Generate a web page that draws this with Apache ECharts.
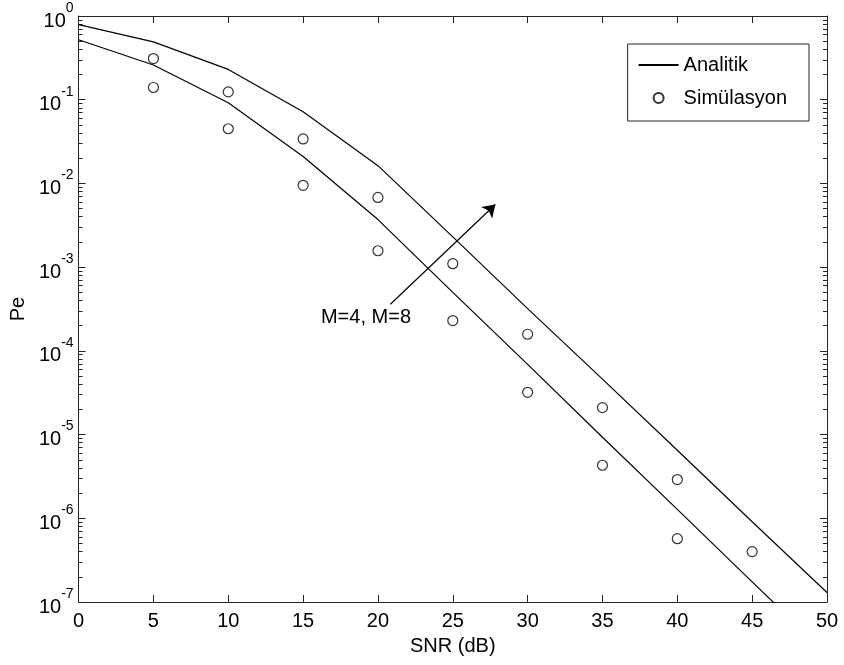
<!DOCTYPE html>
<html>
<head>
<meta charset="utf-8">
<script src="https://cdn.jsdelivr.net/npm/echarts@6/dist/echarts.min.js"></script>
<style>
  html, body { margin: 0; padding: 0; background: #fff; }
  #main { width: 844px; height: 665px; }
</style>
</head>
<body>
<div id="main"></div>
<script>
// SNR (dB) values
var snr = [0, 5, 10, 15, 20, 25, 30, 35, 40, 45, 50];
// analitik egriler
var peAnalitikM4 = [0.52, 0.26, 0.092, 0.021, 0.0037, 5.0e-4, 6.9e-5, 9.3e-6, 1.28e-6, 1.74e-7, 2.4e-8];
var peAnalitikM8 = [0.79, 0.49, 0.23, 0.072, 0.0163, 2.3e-3, 3.2e-4, 4.6e-5, 6.5e-6, 9.1e-7, 1.3e-7];
// simulasyon noktalari
var snrSimM4 = [5, 10, 15, 20, 25, 30, 35, 40];
var peSimM4 = [0.14, 0.045, 0.0095, 1.57e-3, 2.3e-4, 3.2e-5, 4.3e-6, 5.7e-7];
var snrSimM8 = [5, 10, 15, 20, 25, 30, 35, 40, 45];
var peSimM8 = [0.31, 0.124, 0.034, 6.8e-3, 1.1e-3, 1.58e-4, 2.1e-5, 2.9e-6, 4.0e-7];
// ok ve yazi (annotation)
var arrowFrom = [20.83, 3.6e-4];
var arrowTo = [27.84, 5.6e-3];
var arrowText = 'M=4, M=8';
var arrowTextAt = [19.2, 2.47e-4];

var xTicks = [0, 5, 10, 15, 20, 25, 30, 35, 40, 45, 50];
var yTicks = [1e-7, 1e-6, 1e-5, 1e-4, 1e-3, 1e-2, 1e-1, 1];

var yMinor = [];
for (var i = 0; i < yTicks.length - 1; i++) {
    for (var m = 2; m <= 9; m++) {
        yMinor.push(m * yTicks[i]);
    }
}

var pair = function(xs, ys) {
    return xs.map(function(x, i) { return [x, ys[i]]; });
};

var FONT = 'Liberation Sans';
var FS = 20;
var AX = '#262626';

var chart = echarts.init(document.getElementById('main'));

var majorY = function(pos, labels) {
    return {
        type: 'log', logBase: 10, min: 1e-7, max: 1, position: pos,
        axisLine: { show: true, lineStyle: { color: AX, width: 1 } },
        axisTick: { show: true, inside: true, length: 7, customValues: yTicks, lineStyle: { color: AX } },
        axisLabel: {
            show: labels, customValues: yTicks, margin: 5,
            formatter: function(v) {
                var e = Math.round(Math.log10(v));
                return '{b|10}{e|' + e + '}';
            },
            rich: {
                b: { fontFamily: FONT, fontSize: FS, color: '#000', lineHeight: 30, verticalAlign: 'bottom' },
                e: { fontFamily: FONT, fontSize: 14, color: '#000', lineHeight: 14, verticalAlign: 'top' }
            }
        },
        splitLine: { show: false },
        name: labels ? 'Pe' : '', nameLocation: 'middle', nameGap: 50,
        nameTextStyle: { fontFamily: FONT, fontSize: FS, color: '#000' }
    };
};
var minorY = function(pos) {
    return {
        type: 'log', logBase: 10, min: 1e-7, max: 1, position: pos,
        axisLine: { show: false },
        axisTick: { show: true, inside: true, length: 4, customValues: yMinor, lineStyle: { color: AX } },
        axisLabel: { show: false },
        splitLine: { show: false }
    };
};

var option = {
    animation: false,
    backgroundColor: '#fff',
    grid: { left: 78, right: 17, top: 16, bottom: 63 },
    legend: {
        data: [
            { name: 'Analitik', itemStyle: { opacity: 0 } },
            { name: 'Simülasyon' }
        ],
        orient: 'vertical',
        right: 35, top: 44,
        padding: [11, 22, 13, 10],
        itemWidth: 40, itemHeight: 10, itemGap: 13,
        borderColor: AX, borderWidth: 1, backgroundColor: '#fff',
        textStyle: { fontFamily: FONT, fontSize: FS, color: '#000' },
        selectedMode: false
    },
    xAxis: [{
        type: 'value', min: 0, max: 50, interval: 5, position: 'bottom',
        axisLine: { show: true, lineStyle: { color: AX, width: 1 } },
        axisTick: { show: true, inside: true, length: 7, lineStyle: { color: AX } },
        axisLabel: { margin: 9, fontFamily: FONT, fontSize: FS, color: '#000' },
        splitLine: { show: false },
        name: 'SNR (dB)', nameLocation: 'middle', nameGap: 34,
        nameTextStyle: { fontFamily: FONT, fontSize: FS, color: '#000' }
    }, {
        type: 'value', min: 0, max: 50, interval: 5, position: 'top',
        axisLine: { show: true, lineStyle: { color: AX, width: 1 } },
        axisTick: { show: true, inside: true, length: 7, lineStyle: { color: AX } },
        axisLabel: { show: false },
        splitLine: { show: false }
    }],
    yAxis: [majorY('left', true), minorY('left'), majorY('right', false), minorY('right')],
    series: [{
        name: 'Analitik', type: 'line', symbol: 'none',
        lineStyle: { color: '#000', width: 1.2 }, itemStyle: { color: '#000' },
        data: pair(snr, peAnalitikM4)
    }, {
        name: 'Analitik', type: 'line', symbol: 'none',
        lineStyle: { color: '#000', width: 1.2 }, itemStyle: { color: '#000' },
        data: pair(snr, peAnalitikM8)
    }, {
        name: 'Simülasyon', type: 'scatter', symbol: 'circle', symbolSize: 10,
        itemStyle: { color: '#fff', borderColor: '#000', borderWidth: 1.2 },
        data: pair(snrSimM4, peSimM4)
    }, {
        name: 'Simülasyon', type: 'scatter', symbol: 'circle', symbolSize: 10,
        itemStyle: { color: '#fff', borderColor: '#000', borderWidth: 1.2 },
        data: pair(snrSimM8, peSimM8)
    }, {
        name: 'ok', type: 'line', data: [], silent: true,
        markLine: {
            silent: true, symbol: ['none', 'arrow'], symbolSize: 12,
            lineStyle: { color: '#000', width: 1.2, type: 'solid' },
            label: { show: false },
            data: [[{ coord: arrowFrom }, { coord: arrowTo }]]
        },
        markPoint: {
            silent: true, symbol: 'circle', symbolSize: 1,
            itemStyle: { color: 'rgba(0,0,0,0)' },
            label: { show: true, position: 'inside', formatter: arrowText, fontFamily: FONT, fontSize: FS, color: '#000' },
            data: [{ coord: arrowTextAt }]
        }
    }]
};
chart.setOption(option);
</script>
</body>
</html>
